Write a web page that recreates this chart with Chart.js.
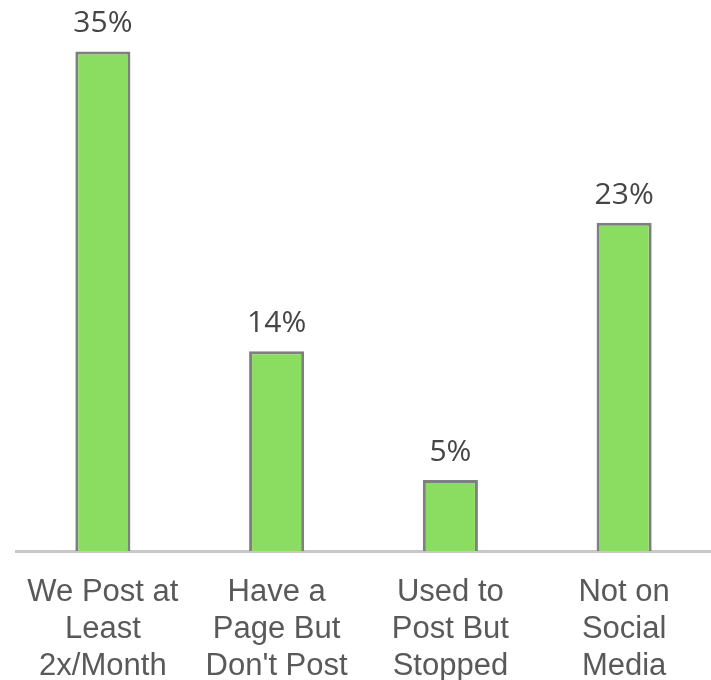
<!DOCTYPE html>
<html>
<head>
<meta charset="utf-8">
<script src="https://cdn.jsdelivr.net/npm/chart.js@4.4.1/dist/chart.umd.min.js"></script>
<style>
  html, body { margin: 0; padding: 0; background: #fff; }
  #wrap { width: 711px; height: 680px; position: relative; }
</style>
</head>
<body>
<div id="wrap"><canvas id="chart"></canvas></div>
<script>
// chart data
const categories = [
    ['We Post at', 'Least', '2x/Month'],
    ['Have a', 'Page But', "Don't Post"],
    ['Used to', 'Post But', 'Stopped'],
    ['Not on', 'Social', 'Media']
];
const shares = [35, 14, 5, 23];

// draws the "35%" labels over each bar
const valueLabels = {
    id: 'valueLabels',
    afterDatasetsDraw(chart) {
        const ctx = chart.ctx;
        const meta = chart.getDatasetMeta(0);
        ctx.save();
        ctx.font = '30px "Open Sans"';
        ctx.fillStyle = '#454545';
        ctx.textAlign = 'center';
        ctx.textBaseline = 'alphabetic';
        meta.data.forEach((bar, i) => {
            ctx.fillText(shares[i] + '%', bar.x, bar.y - 19);
        });
        ctx.restore();
    }
};

new Chart(document.getElementById('chart'), {
    type: 'bar',
    data: {
        labels: categories,
        datasets: [{
            data: shares,
            backgroundColor: '#8bdd62',
            borderColor: '#7f7f7f',
            borderWidth: 3,
            borderSkipped: 'bottom',
            categoryPercentage: 1,
            barPercentage: 0.317
        }]
    },
    options: {
        responsive: true,
        maintainAspectRatio: false,
        animation: false,
        // negative bottom padding pulls the labels down to the canvas edge like the original
        layout: { padding: { left: 16, right: 0, top: 0, bottom: -28 } },
        plugins: {
            legend: { display: false },
            tooltip: { enabled: false }
        },
        scales: {
            x: {
                grid: { display: false, drawTicks: false },
                border: { display: true, color: '#c8c8c8', width: 3 },
                ticks: {
                    color: '#595959',
                    font: { family: '"Liberation Sans", Arial, sans-serif', size: 31, lineHeight: 1.19 },
                    padding: 23,
                    maxRotation: 0,
                    autoSkip: false
                }
            },
            y: {
                display: false,
                min: 0,
                max: 38.6
            }
        }
    },
    plugins: [valueLabels]
});
</script>
</body>
</html>
